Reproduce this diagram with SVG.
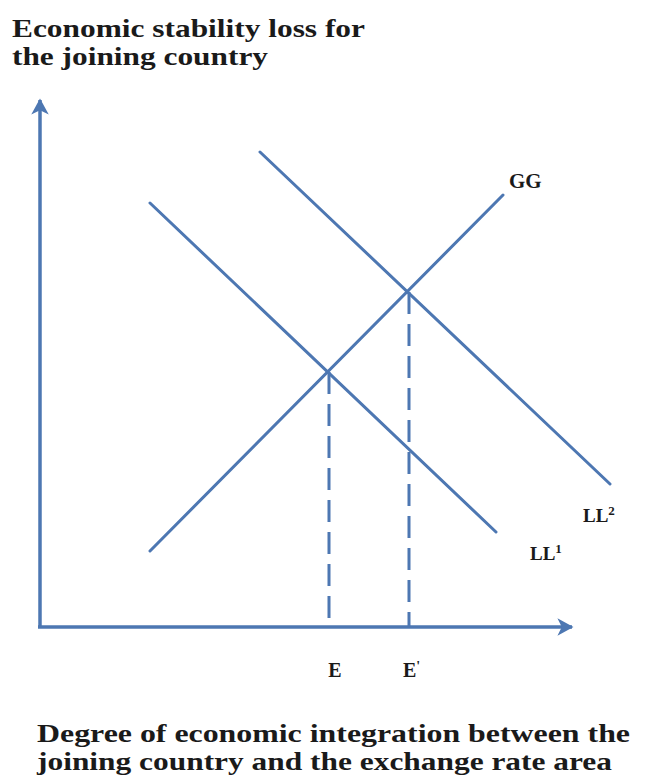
<svg xmlns="http://www.w3.org/2000/svg" width="653" height="783" viewBox="0 0 653 783">
<style>
.ln{stroke:#4d77b2;stroke-width:3;fill:none;stroke-linecap:round}
.ax{stroke:#4d77b2;stroke-width:3.5;fill:none}
.dash{stroke:#4d77b2;stroke-width:3;fill:none;stroke-dasharray:22 10}
.t{font-family:"Liberation Serif","DejaVu Serif",serif;font-weight:bold;fill:#1a1a1a}
</style>
<defs>
<marker id="ah" viewBox="0 0 12 12" refX="10" refY="6" markerWidth="5" markerHeight="5" orient="auto" markerUnits="strokeWidth">
<path d="M0,0 L11,6 L0,12 L3,6 Z" fill="#4d77b2"/>
</marker>
</defs>
<rect width="653" height="783" fill="#ffffff"/>
<g id="title">
<text class="t" x="12" y="37" font-size="25" textLength="353" lengthAdjust="spacingAndGlyphs">Economic stability loss for</text>
<text class="t" x="12" y="65" font-size="25" textLength="256" lengthAdjust="spacingAndGlyphs">the joining country</text>
</g>
<g id="connectors">
<line id="y-axis" class="ax" x1="40" y1="627" x2="40" y2="100" marker-end="url(#ah)"/>
<line id="x-axis" class="ax" x1="38" y1="627" x2="572" y2="627" marker-end="url(#ah)"/>
<line id="GG" class="ln" x1="150" y1="551" x2="503" y2="195"/>
<line id="LL1" class="ln" x1="150" y1="203" x2="496" y2="532"/>
<line id="LL2" class="ln" x1="260" y1="152" x2="610" y2="484"/>
<line id="dE" class="dash" x1="329" y1="372" x2="329" y2="627"/>
<line id="dE2" class="dash" x1="409" y1="292" x2="409" y2="627"/>
</g>
<g id="labels">
<text class="t" x="509" y="188" font-size="21">GG</text>
<text class="t" x="583" y="522" font-size="19">LL<tspan font-size="13" dy="-7">2</tspan></text>
<text class="t" x="530" y="560" font-size="19">LL<tspan font-size="13" dy="-7">1</tspan></text>
<text class="t" x="335" y="677" font-size="20" text-anchor="middle">E</text>
<text class="t" x="403" y="677" font-size="20">E<tspan font-size="14" dy="-6">'</tspan></text>
</g>
<g id="xlabel">
<text class="t" x="37" y="742" font-size="25" textLength="593" lengthAdjust="spacingAndGlyphs">Degree of economic integration between the</text>
<text class="t" x="37" y="770" font-size="25" textLength="575" lengthAdjust="spacingAndGlyphs">joining country and the exchange rate area</text>
</g>
</svg>
